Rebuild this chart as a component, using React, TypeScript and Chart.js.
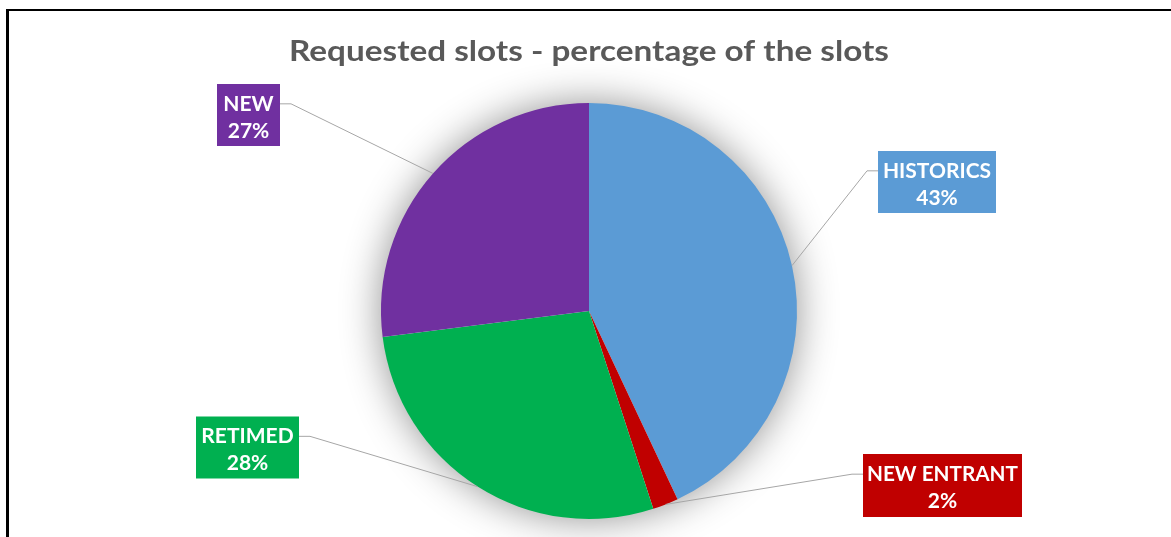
import React, { useEffect, useRef } from "react";
import { Chart, registerables } from "chart.js";

Chart.register(...registerables);

const TITLE = "Requested slots - percentage of the slots";
const CATEGORIES = ["HISTORICS", "NEW ENTRANT", "RETIMED", "NEW"];
const SHARES = [43, 2, 28, 27];
const COLORS = ["#5B9BD5", "#C00000", "#00B050", "#7030A0"];

// Callout box layout (offset of the box centre from the pie centre, box size)
const LABEL_BOXES = [
  { dx: 348, dy: -129, w: 118, h: 62, side: "left" },
  { dx: 353.5, dy: 174.5, w: 159, h: 63, side: "left" },
  { dx: -341.5, dy: 136.5, w: 103, h: 62, side: "right" },
  { dx: -340.5, dy: -196, w: 63, h: 62, side: "right" },
];

const FONT = "Lato";
const TITLE_WIDTH = 600;

const stretchedTitle = {
  id: "stretchedTitle",
  afterDraw(chart: any) {
    const ctx = chart.ctx;
    const cx = (chart.chartArea.left + chart.chartArea.right) / 2;
    ctx.save();
    ctx.font = `bold 29px ${FONT}`;
    const w = ctx.measureText(TITLE).width;
    ctx.translate(cx, 52);
    ctx.scale(TITLE_WIDTH / w, 1);
    ctx.fillStyle = "#595959";
    ctx.textAlign = "center";
    ctx.textBaseline = "middle";
    ctx.fillText(TITLE, 0, 0);
    ctx.restore();
  },
};

const pieGlow = {
  id: "pieGlow",
  beforeDatasetsDraw(chart: any) {
    const el = chart.getDatasetMeta(0).data[0];
    if (!el) return;
    const p = el.getProps(["x", "y", "outerRadius"], true);
    const ctx = chart.ctx;
    ctx.save();
    ctx.shadowColor = "rgba(0,0,0,0.45)";
    ctx.shadowBlur = 40;
    ctx.beginPath();
    ctx.arc(p.x, p.y, p.outerRadius - 1, 0, Math.PI * 2);
    ctx.fillStyle = "#ffffff";
    ctx.fill();
    ctx.restore();
  },
};

const calloutLabels = {
  id: "calloutLabels",
  afterDatasetsDraw(chart: any) {
    const ctx = chart.ctx;
    const meta = chart.getDatasetMeta(0);
    const total = SHARES.reduce((a, b) => a + b, 0);
    meta.data.forEach((el: any, i: number) => {
      const p = el.getProps(["x", "y", "startAngle", "endAngle", "outerRadius"], true);
      const mid = (p.startAngle + p.endAngle) / 2;
      const ax = p.x + Math.cos(mid) * p.outerRadius;
      const ay = p.y + Math.sin(mid) * p.outerRadius;
      const b = LABEL_BOXES[i];
      const left = p.x + b.dx - b.w / 2;
      const top = p.y + b.dy - b.h / 2;
      const line1 = top + b.h * 0.32;
      const line2 = top + b.h * 0.755;
      const edgeX = b.side === "left" ? left : left + b.w;
      const elbowX = b.side === "left" ? edgeX - 11 : edgeX + 11;
      ctx.save();
      ctx.strokeStyle = "#A6A6A6";
      ctx.lineWidth = 1;
      ctx.beginPath();
      ctx.moveTo(ax, ay);
      ctx.lineTo(elbowX, line1);
      ctx.lineTo(edgeX, line1);
      ctx.stroke();
      ctx.fillStyle = COLORS[i];
      ctx.fillRect(left, top, b.w, b.h);
      ctx.fillStyle = "#ffffff";
      ctx.font = `bold 21px ${FONT}`;
      ctx.textAlign = "center";
      ctx.textBaseline = "middle";
      ctx.fillText(CATEGORIES[i], left + b.w / 2, line1, b.w - 8);
      ctx.fillText(Math.round((SHARES[i] / total) * 100) + "%", left + b.w / 2, line2);
      ctx.restore();
    });
  },
};

export default function App() {
  const ref = useRef<HTMLCanvasElement | null>(null);
  useEffect(() => {
    if (!ref.current) return;
    const chart = new Chart(ref.current, {
      type: "pie",
      data: {
        labels: CATEGORIES,
        datasets: [
          {
            data: SHARES,
            backgroundColor: COLORS,
            borderWidth: 0,
          },
        ],
      },
      options: {
        responsive: false,
        animation: false,
        layout: { padding: { top: 103, bottom: 18, left: 7, right: 0 } },
        plugins: {
          legend: { display: false },
          tooltip: { enabled: false },
          title: { display: false },
        },
      },
      plugins: [pieGlow, calloutLabels, stretchedTitle],
    });
    return () => chart.destroy();
  }, []);

  return (
    <div
      style={{
        position: "absolute",
        left: 0,
        top: 0,
        width: 1171,
        height: 537,
        overflow: "hidden",
        background: "#ffffff",
      }}
    >
      <canvas ref={ref} width={1171} height={537} style={{ position: "absolute", left: 0, top: 0 }} />
      <div
        style={{
          position: "absolute",
          left: 6,
          top: 9,
          width: 1200,
          height: 600,
          borderLeft: "3px solid #000",
          borderTop: "2px solid #000",
          pointerEvents: "none",
        }}
      />
    </div>
  );
}
